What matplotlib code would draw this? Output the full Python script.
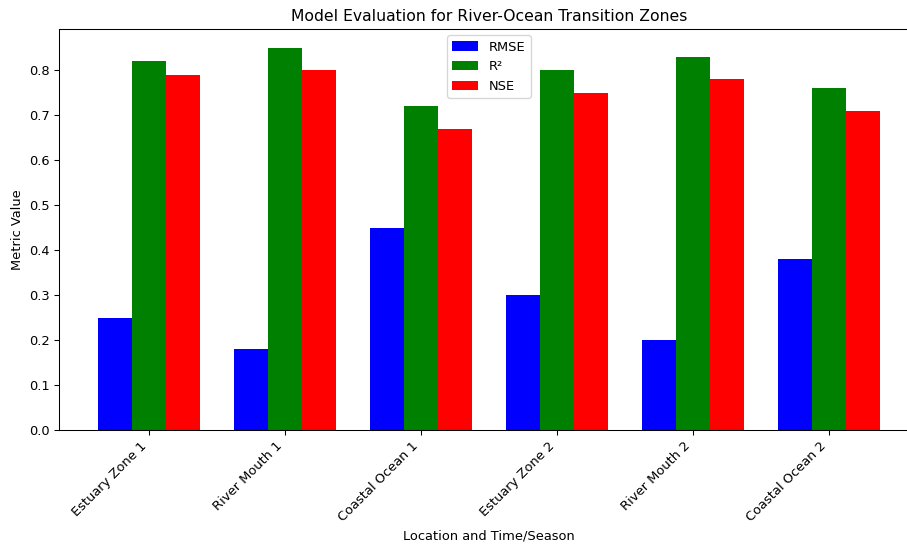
import matplotlib.pyplot as plt
import numpy as np

# === DATA ===
locations = ["Estuary Zone 1", "River Mouth 1", "Coastal Ocean 1",
             "Estuary Zone 2", "River Mouth 2", "Coastal Ocean 2"]
rmse = [0.25, 0.18, 0.45, 0.30, 0.20, 0.38]
r2 = [0.82, 0.85, 0.72, 0.80, 0.83, 0.76]
nse = [0.79, 0.80, 0.67, 0.75, 0.78, 0.71]

# === PLOT ===
x = np.arange(len(locations))
width = 0.25

fig, ax = plt.subplots(figsize=(907 / 94, 545 / 94), dpi=94)
ax.bar(x - width, rmse, width, label='RMSE', color='blue')
ax.bar(x, r2, width, label='R²', color='green')
ax.bar(x + width, nse, width, label='NSE', color='red')

ax.set_title("Model Evaluation for River-Ocean Transition Zones")
ax.set_xlabel("Location and Time/Season")
ax.set_ylabel("Metric Value")
ax.set_xticks(x)
ax.set_xticklabels(locations, rotation=45, ha='right')
ax.legend(loc='upper center')

# axes run slightly past the right edge, as in the cropped original
plt.subplots_adjust(left=0.065, right=1.013, top=0.947, bottom=0.211)
plt.savefig("out.png", dpi=94)
